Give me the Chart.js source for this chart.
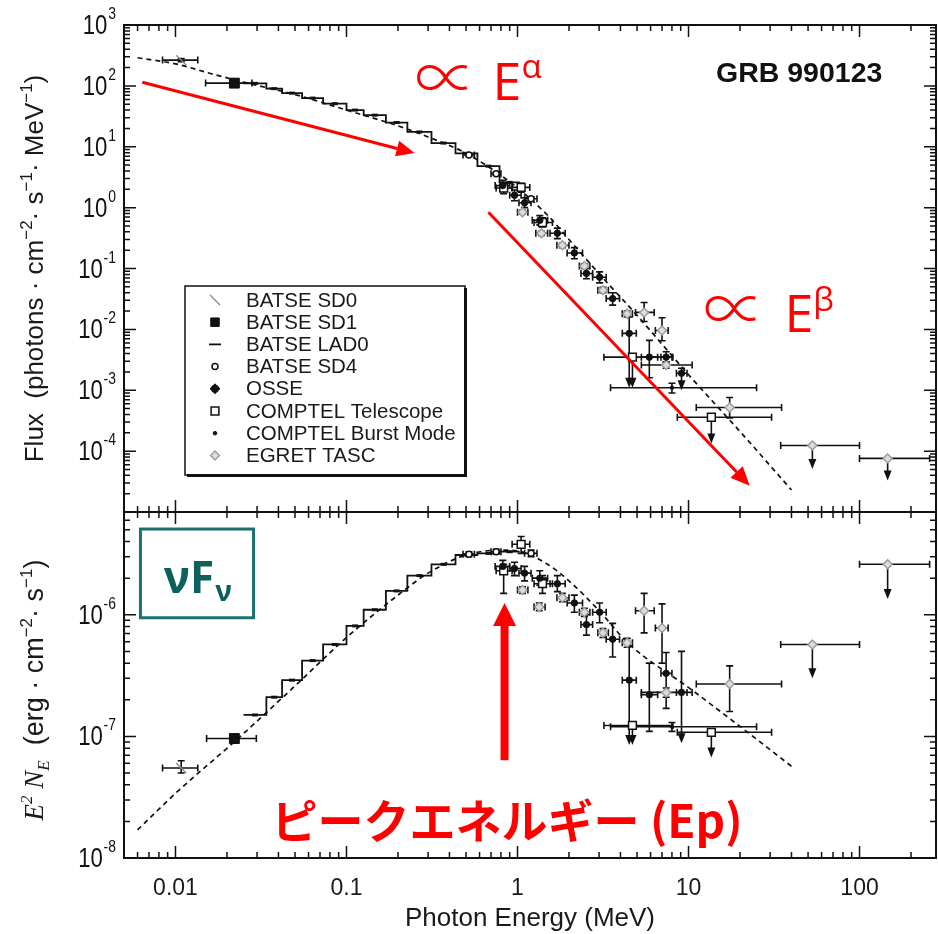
<!DOCTYPE html>
<html>
<head>
<meta charset="utf-8">
<title>GRB 990123 spectrum</title>
<script src="https://cdn.jsdelivr.net/npm/chart.js@4.4.1/dist/chart.umd.min.js"></script>
<style>
  html, body { margin: 0; padding: 0; background: #fff; }
  #c { display: block; }
</style>
</head>
<body>
<canvas id="c" width="938" height="934"></canvas>
<script>
/* GRB 990123 broadband spectrum: photon flux (top) and E^2 N_E (bottom),
   BATSE / OSSE / COMPTEL / EGRET points with the Band-function fit. */

const X_MIN = 0.005, X_MAX = 280;                    // MeV
const X_TICKS = [0.01, 0.1, 1, 10, 100];
const X_TICK_LABELS = ['0.01', '0.1', '1', '10', '100'];
const FLUX_MIN = 1e-5, FLUX_MAX = 1e3;
const NUFNU_MIN = 1e-8, NUFNU_MAX = 7e-6;
const FLUX_LABEL_EXP = [3, 2, 1, 0, -1, -2, -3, -4];
const NUFNU_LABEL_EXP = [-6, -7, -8];

// Band fit (dashed), read at nodes
const MODEL_E      = [0.006, 0.01, 0.016, 0.025, 0.05, 0.1, 0.2, 0.3, 0.5, 0.8, 1.0, 1.5, 2, 3, 5, 10, 20, 40];
const MODEL_FLUX   = [290, 230, 160, 115, 72, 40, 22, 14.5, 7.8, 3.4, 2.1, 0.75, 0.30, 0.082, 0.017, 1.8e-3, 2.1e-4, 2.3e-5];
const MODEL_NU_E   = [0.006, 0.01, 0.023, 0.05, 0.1, 0.2, 0.3, 0.5, 0.8, 1.0, 1.5, 2, 3, 4.4, 10.5, 21.8, 40.5];
const MODEL_NUFNU  = [1.7e-8, 3.4e-8, 9.5e-8, 2.6e-7, 6.5e-7, 1.45e-6, 2.2e-6, 3.1e-6, 3.4e-6, 3.35e-6, 2.6e-6, 1.9e-6, 1.08e-6, 5.9e-7, 2.4e-7, 1.1e-7, 5.6e-8];

// BATSE LAD0 bins (edges in MeV) and their levels
const LAD_EDGES = [0.025, 0.034, 0.042, 0.055, 0.073, 0.10, 0.126, 0.17, 0.227, 0.314, 0.434, 0.583, 0.785, 1.03];
const LAD_FLUX  = [110, 90, 76, 63, 51, 40, 33, 25, 17.5, 11.5, 7.8, 4.8, 2.6];
const LAD_NUFNU = [1.5e-7, 2.1e-7, 2.9e-7, 4.2e-7, 5.7e-7, 8.1e-7, 1.1e-6, 1.57e-6, 2.1e-6, 2.6e-6, 3.1e-6, 3.2e-6, 3.3e-6];

// rows: [E, E_lo, E_hi, value, value_lo, value_hi, upperLimit]
const SD0_FLUX  = [[0.0108, 0.0084, 0.0135, 265, 250, 280, 0]];
const SD0_NUFNU = [[0.0108, 0.0084, 0.0135, 5.5e-8, 5.0e-8, 6.3e-8, 0]];
const SD1_FLUX  = [[0.0221, 0.0150, 0.0280, 111, 106, 117, 0]];
const SD1_NUFNU = [[0.0221, 0.0152, 0.0297, 9.6e-8, 9.1e-8, 1.02e-7, 0]];

const SD4_FLUX  = [[0.52, 0.48, 0.56, 7.3, 7.0, 7.7, 0], [0.75, 0.70, 0.80, 3.6, 3.4, 3.8, 0], [1.2, 1.1, 1.3, 1.4, 1.3, 1.5, 0]];
const SD4_NUFNU = [[0.52, 0.48, 0.56, 3.15e-6, 3.0e-6, 3.3e-6, 0], [0.75, 0.70, 0.80, 3.3e-6, 3.15e-6, 3.45e-6, 0], [1.2, 1.1, 1.3, 3.2e-6, 3.0e-6, 3.4e-6, 0]];

const OSSE_FLUX = [
  [0.82, 0.74, 0.90, 2.3, 1.9, 2.8, 0],
  [0.96, 0.90, 1.05, 1.6, 1.3, 1.95, 0],
  [1.10, 1.02, 1.20, 1.2, 1.0, 1.45, 0],
  [1.35, 1.22, 1.50, 0.62, 0.52, 0.74, 0],
  [1.71, 1.55, 1.90, 0.38, 0.31, 0.46, 0],
  [2.15, 1.95, 2.40, 0.18, 0.145, 0.22, 0],
  [2.53, 2.35, 2.75, 0.083, 0.068, 0.10, 0],
  [3.02, 2.75, 3.30, 0.072, 0.058, 0.088, 0],
  [3.60, 3.30, 3.95, 0.032, 0.025, 0.040, 0],
  [4.50, 4.10, 4.95, 0.0086, 0.0011, 0.016, 1],
  [5.90, 5.30, 6.60, 0.0035, 0.0016, 0.0066, 0],
  [7.40, 6.90, 8.00, 0.0035, 0.0029, 0.0043, 0],
  [9.10, 8.50, 9.80, 0.0019, 0.0010, 0.0023, 1]
];
const OSSE_NUFNU = [
  [0.82, 0.74, 0.90, 2.5e-6, 2.2e-6, 2.8e-6, 0],
  [0.96, 0.90, 1.05, 2.4e-6, 2.1e-6, 2.7e-6, 0],
  [1.10, 1.02, 1.20, 2.2e-6, 1.9e-6, 2.5e-6, 0],
  [1.35, 1.22, 1.50, 2.0e-6, 1.75e-6, 2.3e-6, 0],
  [1.71, 1.55, 1.90, 1.8e-6, 1.55e-6, 2.1e-6, 0],
  [2.15, 1.95, 2.40, 1.25e-6, 1.05e-6, 1.45e-6, 0],
  [2.53, 2.35, 2.75, 8.3e-7, 6.8e-7, 1.0e-6, 0],
  [3.02, 2.75, 3.30, 1.05e-6, 8.6e-7, 1.25e-6, 0],
  [3.60, 3.30, 3.95, 6.3e-7, 4.5e-7, 8.5e-7, 0],
  [4.50, 4.10, 4.95, 2.9e-7, 8.5e-8, 5.5e-7, 1],
  [5.90, 5.30, 6.60, 2.2e-7, 1.1e-7, 4.0e-7, 0],
  [7.40, 6.90, 8.00, 3.3e-7, 1.7e-7, 4.9e-7, 0],
  [9.10, 8.50, 9.80, 2.3e-7, 8.8e-8, 5.0e-7, 1]
];

const COMPTEL_FLUX = [
  [0.83, 0.75, 0.93, 2.1, 1.7, 2.5, 0],
  [1.05, 0.93, 1.18, 2.15, 1.8, 2.5, 0],
  [1.40, 1.25, 1.60, 0.57, 0.48, 0.68, 0],
  [4.70, 3.20, 8.10, 0.0035, 0.0011, 0.0035, 1],
  [13.6, 8.6, 30.6, 3.6e-4, 1.33e-4, 3.6e-4, 1]
];
const COMPTEL_NUFNU = [
  [0.83, 0.75, 0.93, 2.3e-6, 1.5e-6, 2.6e-6, 0],
  [1.05, 0.93, 1.18, 3.8e-6, 3.2e-6, 4.4e-6, 0],
  [1.40, 1.25, 1.60, 1.8e-6, 1.5e-6, 2.1e-6, 0],
  [4.70, 3.20, 8.10, 1.23e-7, 8.5e-8, 1.23e-7, 1],
  [13.6, 8.6, 30.6, 1.08e-7, 6.7e-8, 1.08e-7, 1]
];

const BURST_FLUX  = [[8.0, 3.5, 25, 0.0011, 0.0009, 0.0013, 0]];
const BURST_NUFNU = [[8.0, 3.5, 25, 1.2e-7, 1.1e-7, 1.3e-7, 0]];

const EGRET_FLUX = [
  [1.07, 1.00, 1.15, 0.84, 0.78, 0.90, 0],
  [1.38, 1.28, 1.50, 0.38, 0.35, 0.41, 0],
  [1.83, 1.70, 2.00, 0.24, 0.22, 0.26, 0],
  [2.46, 2.30, 2.65, 0.11, 0.10, 0.12, 0],
  [3.16, 2.95, 3.40, 0.044, 0.040, 0.049, 0],
  [4.38, 4.10, 4.70, 0.018, 0.016, 0.020, 0],
  [5.50, 4.90, 6.30, 0.019, 0.0135, 0.0277, 0],
  [7.00, 6.40, 7.60, 0.0096, 0.0065, 0.0155, 0],
  [7.40, 5.30, 10.5, 0.0026, 0.0023, 0.0029, 0],
  [17.4, 11.1, 35.0, 5.2e-4, 3.5e-4, 7.6e-4, 0],
  [53.0, 34.6, 100, 1.24e-4, 5.1e-5, 1.24e-4, 1],
  [146, 100, 257, 7.6e-5, 3.3e-5, 7.6e-5, 1]
];
const EGRET_NUFNU = [
  [1.07, 1.00, 1.15, 1.6e-6, 1.5e-6, 1.7e-6, 0],
  [1.34, 1.25, 1.45, 1.16e-6, 1.08e-6, 1.25e-6, 0],
  [1.83, 1.70, 2.00, 1.38e-6, 1.28e-6, 1.5e-6, 0],
  [2.46, 2.30, 2.65, 1.05e-6, 9.7e-7, 1.13e-6, 0],
  [3.16, 2.95, 3.40, 7.1e-7, 6.5e-7, 7.7e-7, 0],
  [4.38, 4.10, 4.70, 5.9e-7, 5.4e-7, 6.4e-7, 0],
  [5.50, 4.90, 6.30, 1.08e-6, 7.1e-7, 1.5e-6, 0],
  [7.00, 6.40, 7.60, 7.8e-7, 4.0e-7, 1.23e-6, 0],
  [7.40, 5.30, 10.5, 2.3e-7, 2.1e-7, 2.5e-7, 0],
  [17.4, 11.1, 35.0, 2.7e-7, 1.6e-7, 3.8e-7, 0],
  [53.0, 34.6, 100, 5.7e-7, 3.0e-7, 5.7e-7, 1],
  [146, 100, 257, 2.6e-6, 1.35e-6, 2.6e-6, 1]
];

const LEGEND_ITEMS = [
  ['BATSE SD0', 'sd0'], ['BATSE SD1', 'sd1'], ['BATSE LAD0', 'lad'], ['BATSE SD4', 'sd4'],
  ['OSSE', 'osse'], ['COMPTEL Telescope', 'comptel'], ['COMPTEL Burst Mode', 'burst'], ['EGRET TASC', 'egret']
];

const INK = '#111', GREY = '#8c8c8c', RED = '#ff0000', TEAL = '#1b716c', TEAL_TXT = '#0d605b';
const SANS = '"Liberation Sans", Arial, Helvetica, sans-serif';
const SERIF = '"Liberation Serif", "Times New Roman", serif';

const MARK = {
  sd0:     { pointStyle: 'line',    radius: 7,   rotation: 45, borderColor: GREY, backgroundColor: GREY,  borderWidth: 1.4 },
  sd1:     { pointStyle: 'rect',    radius: 7,   rotation: 0,  borderColor: INK,  backgroundColor: INK,   borderWidth: 1 },
  lad:     { pointStyle: 'line',    radius: 6,   rotation: 0,  borderColor: INK,  backgroundColor: INK,   borderWidth: 1.8 },
  sd4:     { pointStyle: 'circle',  radius: 3,   rotation: 0,  borderColor: INK,  backgroundColor: '#fff', borderWidth: 1.5 },
  osse:    { pointStyle: 'circle',  radius: 3.2, rotation: 0,  borderColor: INK,  backgroundColor: INK,   borderWidth: 1 },
  comptel: { pointStyle: 'rect',    radius: 5.5, rotation: 0,  borderColor: INK,  backgroundColor: '#fff', borderWidth: 1.5 },
  burst:   { pointStyle: 'circle',  radius: 1.8, rotation: 0,  borderColor: INK,  backgroundColor: INK,   borderWidth: 1 },
  egret:   { pointStyle: 'rectRot', radius: 4.5, rotation: 0,  borderColor: '#9a9a9a', backgroundColor: '#dcdcdc', borderWidth: 1.4 }
};

/* ---- helpers ----------------------------------------------------------- */
function pointSet(label, rows, axis, kind) {
  const m = MARK[kind];
  return {
    label, rows, kind, yAxisID: axis, showLine: false,
    data: rows.map(r => ({ x: r[0], y: r[3] })),
    pointStyle: m.pointStyle, pointRadius: m.radius, pointRotation: m.rotation,
    pointBackgroundColor: m.backgroundColor, pointBorderColor: m.borderColor, pointBorderWidth: m.borderWidth
  };
}
function ladSet(values, axis) {
  return {
    label: 'BATSE LAD0', steps: values, yAxisID: axis, showLine: false, pointRadius: 0,
    data: values.map((v, i) => ({ x: LAD_EDGES[i], y: v }))
  };
}
function modelSet(xs, ys, axis) {
  return {
    label: 'Band fit', yAxisID: axis, order: 10, showLine: true, pointRadius: 0,
    data: xs.map((x, i) => ({ x, y: ys[i] })),
    borderColor: INK, borderWidth: 1.7, borderDash: [5, 4], cubicInterpolationMode: 'monotone'
  };
}

function downArrow(ctx, x, yTop, yTip) {
  ctx.beginPath(); ctx.moveTo(x, yTop); ctx.lineTo(x, yTip - 8); ctx.stroke();
  ctx.beginPath(); ctx.moveTo(x, yTip); ctx.lineTo(x - 4, yTip - 10); ctx.lineTo(x + 4, yTip - 10); ctx.closePath(); ctx.fill();
}

function redArrow(ctx, x0, y0, x1, y1, w, head, half) {
  const a = Math.atan2(y1 - y0, x1 - x0);
  const bx = x1 - head * Math.cos(a), by = y1 - head * Math.sin(a);
  ctx.lineWidth = w;
  ctx.beginPath(); ctx.moveTo(x0, y0); ctx.lineTo(bx, by); ctx.stroke();
  ctx.beginPath(); ctx.moveTo(x1, y1);
  ctx.lineTo(bx + half * Math.sin(a), by - half * Math.cos(a));
  ctx.lineTo(bx - half * Math.sin(a), by + half * Math.cos(a));
  ctx.closePath(); ctx.fill();
}

// runs: [text, 'n' | 'sup' | 'sub', family, style]
function drawRuns(ctx, runs, size, x, y, align) {
  const parts = runs.map(([t, kind = 'n', fam = SANS, style = '']) => {
    const s = kind === 'n' ? size : Math.round(size * 0.64);
    const dy = kind === 'sup' ? -size * 0.42 : kind === 'sub' ? size * 0.24 : 0;
    const font = (style ? style + ' ' : '') + s + 'px ' + fam;
    ctx.font = font;
    return { t, font, dy, w: ctx.measureText(t).width };
  });
  const total = parts.reduce((a, p) => a + p.w, 0);
  let cx = align === 'center' ? x - total / 2 : align === 'right' ? x - total : x;
  ctx.textAlign = 'left';
  parts.forEach(p => { ctx.font = p.font; ctx.fillText(p.t, cx, y + p.dy); cx += p.w; });
  return total;
}

function logTicks(min, max) {
  const out = [];
  for (let d = Math.floor(Math.log10(min)); d <= Math.ceil(Math.log10(max)); d++) {
    for (let m = 1; m <= 9; m++) {
      const v = m * Math.pow(10, d);
      if (v >= min * 0.9999 && v <= max * 1.0001) out.push({ v, major: m === 1 });
    }
  }
  return out;
}

/* ---- plugins ------------------------------------------------------------ */
const errorBars = {
  id: 'errorBars',
  beforeDatasetsDraw(chart) {
    const { ctx } = chart, xs = chart.scales.x;
    ctx.save();
    ctx.strokeStyle = INK; ctx.fillStyle = INK; ctx.lineWidth = 1.6;
    chart.data.datasets.forEach(ds => {
      const ys = chart.scales[ds.yAxisID];
      if (ds.steps) {                                   // LAD0 staircase
        ctx.lineWidth = 1.8;
        ctx.beginPath();
        ds.steps.forEach((v, i) => {
          const x0 = xs.getPixelForValue(LAD_EDGES[i]), x1 = xs.getPixelForValue(LAD_EDGES[i + 1]);
          const py = ys.getPixelForValue(v);
          if (i === 0) ctx.moveTo(x0, py); else ctx.lineTo(x0, py);
          ctx.lineTo(x1, py);
        });
        ctx.stroke();
        ds.steps.forEach((v, i) => {
          const xm = xs.getPixelForValue(Math.sqrt(LAD_EDGES[i] * LAD_EDGES[i + 1]));
          const py = ys.getPixelForValue(v);
          ctx.fillRect(xm - 3, py - 1.5, 6, 3);
        });
        ctx.lineWidth = 1.6;
        return;
      }
      if (!ds.rows) return;
      ds.rows.forEach(([e, lo, hi, y, ylo, yhi, ul]) => {
        const x = xs.getPixelForValue(e), py = ys.getPixelForValue(y);
        const x0 = xs.getPixelForValue(lo), x1 = xs.getPixelForValue(hi);
        ctx.beginPath();
        ctx.moveTo(x0, py); ctx.lineTo(x1, py);
        ctx.moveTo(x0, py - 3.5); ctx.lineTo(x0, py + 3.5);
        ctx.moveTo(x1, py - 3.5); ctx.lineTo(x1, py + 3.5);
        ctx.stroke();
        const pHi = ys.getPixelForValue(yhi);
        if (yhi > y) {
          ctx.beginPath(); ctx.moveTo(x, py); ctx.lineTo(x, pHi);
          ctx.moveTo(x - 3.5, pHi); ctx.lineTo(x + 3.5, pHi); ctx.stroke();
        }
        if (ul) {
          downArrow(ctx, x, py, ys.getPixelForValue(ylo));
        } else if (ylo < y) {
          const pLo = ys.getPixelForValue(ylo);
          ctx.beginPath(); ctx.moveTo(x, py); ctx.lineTo(x, pLo);
          ctx.moveTo(x - 3.5, pLo); ctx.lineTo(x + 3.5, pLo); ctx.stroke();
        }
      });
    });
    ctx.restore();
  }
};

const panelFrames = {
  id: 'panelFrames',
  afterDatasetsDraw(chart) {
    const { ctx } = chart, xs = chart.scales.x;
    const xt = logTicks(X_MIN, X_MAX);
    ctx.save();
    ctx.strokeStyle = INK; ctx.fillStyle = INK;
    [['yF', FLUX_MIN, FLUX_MAX, FLUX_LABEL_EXP], ['yE', NUFNU_MIN, NUFNU_MAX, NUFNU_LABEL_EXP]].forEach(([id, mn, mx, exps]) => {
      const ys = chart.scales[id];
      const L = xs.left, R = xs.right, T = ys.top, B = ys.bottom;
      ctx.lineWidth = 2;
      ctx.strokeRect(L, T, R - L, B - T);
      ctx.lineWidth = 1.5;
      ctx.beginPath();
      xt.forEach(({ v, major }) => {
        const x = xs.getPixelForValue(v), len = major ? 12 : 6;
        ctx.moveTo(x, T); ctx.lineTo(x, T + len);
        ctx.moveTo(x, B); ctx.lineTo(x, B - len);
      });
      logTicks(mn, mx).forEach(({ v, major }) => {
        const y = ys.getPixelForValue(v), len = major ? 12 : 6;
        ctx.moveTo(L, y); ctx.lineTo(L + len, y);
        ctx.moveTo(R, y); ctx.lineTo(R - len, y);
      });
      ctx.stroke();
      // decade labels 10^n
      ctx.textBaseline = 'alphabetic';
      exps.forEach(n => {
        const y = ys.getPixelForValue(Math.pow(10, n));
        ctx.save();
        ctx.translate(L - 8, y);
        ctx.scale(0.82, 1);
        ctx.font = '17px ' + SANS;
        const sup = String(n);
        const sw = ctx.measureText(sup).width;
        ctx.textAlign = 'right';
        ctx.fillText(sup, 0, -6);
        ctx.font = '27px ' + SANS;
        ctx.fillText('10', -sw - 1, 9);
        ctx.restore();
      });
    });
    ctx.restore();
  }
};

const annotations = {
  id: 'annotations',
  afterDraw(chart) {
    const { ctx } = chart, xs = chart.scales.x, yF = chart.scales.yF, yE = chart.scales.yE;
    const X = v => xs.getPixelForValue(v), F = v => yF.getPixelForValue(v), N = v => yE.getPixelForValue(v);
    const area = chart.chartArea;
    ctx.save();

    // axis titles
    ctx.fillStyle = '#1a1a1a';
    ctx.textBaseline = 'alphabetic';
    ctx.save();
    ctx.translate(43, (yF.top + yF.bottom) / 2);
    ctx.rotate(-Math.PI / 2);
    drawRuns(ctx, [['Flux  (photons \u00b7 cm'], ['\u22122', 'sup'], ['\u00b7 s'], ['\u22121', 'sup'], ['\u00b7 MeV'], ['\u22121', 'sup'], [')']], 26, 0, 0, 'center');
    ctx.restore();
    ctx.save();
    ctx.translate(43, (yE.top + yE.bottom) / 2 + 5);
    ctx.rotate(-Math.PI / 2);
    drawRuns(ctx, [['E', 'n', SERIF, 'italic'], ['2', 'sup', SERIF, 'italic'], [' N', 'n', SERIF, 'italic'], ['E', 'sub', SERIF, 'italic'],
                   ['  (erg \u00b7 cm'], ['\u22122', 'sup'], ['\u00b7 s'], ['\u22121', 'sup'], [')']], 27, 0, 0, 'center');
    ctx.restore();

    // legend
    const lx = area.left + 61, ly = area.top + 261, lw = 280, lh = 189;
    ctx.lineWidth = 1.5; ctx.strokeStyle = INK;
    ctx.strokeRect(lx, ly, lw, lh);
    ctx.fillStyle = INK;
    ctx.fillRect(lx + lw - 1, ly + 2, 3, lh);
    ctx.fillRect(lx + 2, ly + lh - 1, lw, 3);
    LEGEND_ITEMS.forEach(([text, kind], i) => {
      const cy = ly + 14 + i * 22.2, sx = lx + 30;
      const m = MARK[kind];
      ctx.save();
      ctx.strokeStyle = m.borderColor; ctx.fillStyle = m.backgroundColor; ctx.lineWidth = m.borderWidth;
      if (kind === 'osse') {
        ctx.lineWidth = 2; ctx.beginPath();
        ctx.moveTo(sx - 5, cy); ctx.lineTo(sx + 5, cy); ctx.moveTo(sx, cy - 5); ctx.lineTo(sx, cy + 5); ctx.stroke();
      }
      Chart.helpers.drawPoint(ctx, { pointStyle: m.pointStyle, rotation: m.rotation, radius: kind === 'sd1' ? 6 : m.radius, borderWidth: m.borderWidth }, sx, cy);
      ctx.restore();
      ctx.fillStyle = '#1a1a1a';
      ctx.font = '20.5px ' + SANS; ctx.textAlign = 'left'; ctx.textBaseline = 'middle';
      ctx.fillText(text, lx + 61, cy + 1);
    });

    // burst label
    ctx.textBaseline = 'alphabetic';
    ctx.font = 'bold 28.5px ' + SANS; ctx.textAlign = 'right'; ctx.fillStyle = INK;
    ctx.fillText('GRB 990123', X(136), F(115));

    // power-law guides
    ctx.fillStyle = RED; ctx.strokeStyle = RED;
    redArrow(ctx, X(0.0064), F(115), X(0.25), F(7.9), 3, 18, 8);
    redArrow(ctx, X(0.676), F(0.84), X(22.8), F(2.7e-5), 3, 19, 8.5);
    ctx.textAlign = 'center';
    ctx.textBaseline = 'middle';
    ctx.font = '300 62px "Noto Sans CJK JP"';
    [[0.38, 140], [18.5, 0.0224]].forEach(([e, f]) => {
      ctx.fillText('\u221d', X(e), F(f));
    });
    ctx.textBaseline = 'alphabetic';
    ctx.textAlign = 'left';
    drawRuns(ctx, [['E', 'n', '"Open Sans"'], ['\u03b1', 'sup', '"Open Sans"']], 52, X(0.714), F(58), 'left');
    drawRuns(ctx, [['E', 'n', '"Open Sans"'], ['\u03b2', 'sup', '"Open Sans"']], 52, X(36.4), F(8.9e-3), 'left');

    // peak energy marker
    redArrow(ctx, X(0.84), N(6.35e-8), X(0.84), N(1.25e-6), 8, 23, 11.5);
    ctx.font = 'bold 46px "Noto Sans CJK JP"';
    ctx.fillText('\u30d4\u30fc\u30af\u30a8\u30cd\u30eb\u30ae\u30fc (Ep)', X(0.0364), N(1.45e-8));

    // nuFnu tag
    const bx0 = X(0.00624), bx1 = X(0.0286), by0 = N(5.07e-6), by1 = N(9.45e-7);
    ctx.strokeStyle = TEAL; ctx.lineWidth = 3;
    ctx.strokeRect(bx0, by0, bx1 - bx0, by1 - by0);
    ctx.fillStyle = TEAL_TXT;
    ctx.font = 'bold 44px "Open Sans"';
    const w = ctx.measureText('\u03bdF').width;
    const tx = (bx0 + bx1) / 2 - (w + 16) / 2;
    ctx.fillText('\u03bdF', tx, by0 + 64);
    ctx.font = 'bold 28px "Open Sans"';
    ctx.fillText('\u03bd', tx + w + 1, by0 + 72);

    ctx.restore();
  }
};

/* ---- chart -------------------------------------------------------------- */
const datasets = [
  pointSet('BATSE SD0', SD0_FLUX, 'yF', 'sd0'),
  pointSet('BATSE SD1', SD1_FLUX, 'yF', 'sd1'),
  ladSet(LAD_FLUX, 'yF'),
  pointSet('BATSE SD4', SD4_FLUX, 'yF', 'sd4'),
  pointSet('OSSE', OSSE_FLUX, 'yF', 'osse'),
  pointSet('COMPTEL Telescope', COMPTEL_FLUX, 'yF', 'comptel'),
  pointSet('COMPTEL Burst Mode', BURST_FLUX, 'yF', 'burst'),
  pointSet('EGRET TASC', EGRET_FLUX, 'yF', 'egret'),
  pointSet('BATSE SD0', SD0_NUFNU, 'yE', 'sd0'),
  pointSet('BATSE SD1', SD1_NUFNU, 'yE', 'sd1'),
  ladSet(LAD_NUFNU, 'yE'),
  pointSet('BATSE SD4', SD4_NUFNU, 'yE', 'sd4'),
  pointSet('OSSE', OSSE_NUFNU, 'yE', 'osse'),
  pointSet('COMPTEL Telescope', COMPTEL_NUFNU, 'yE', 'comptel'),
  pointSet('COMPTEL Burst Mode', BURST_NUFNU, 'yE', 'burst'),
  pointSet('EGRET TASC', EGRET_NUFNU, 'yE', 'egret'),
  modelSet(MODEL_E, MODEL_FLUX, 'yF'),
  modelSet(MODEL_NU_E, MODEL_NUFNU, 'yE')
];

const yAxis = (min, max, weight) => ({
  type: 'logarithmic', position: 'left', stack: 'panels', stackWeight: weight, min, max,
  grid: { display: false, drawTicks: false }, border: { display: false },
  ticks: { display: false },
  afterFit(s) { s.width = 124; }
});

new Chart(document.getElementById('c'), {
  type: 'scatter',
  data: { datasets },
  options: {
    responsive: false, animation: false, events: [],
    layout: { autoPadding: false, padding: { top: 25, right: 2, left: 0, bottom: 0 } },
    plugins: { legend: { display: false }, tooltip: { enabled: false } },
    scales: {
      x: {
        type: 'logarithmic', min: X_MIN, max: X_MAX,
        grid: { display: false, drawTicks: false }, border: { display: false },
        afterBuildTicks(s) { s.ticks = X_TICKS.map(v => ({ value: v })); },
        ticks: {
          color: '#1a1a1a', font: { family: SANS, size: 23 }, padding: 17, maxRotation: 0, autoSkip: false,
          callback: v => { const i = X_TICKS.findIndex(t => Math.abs(t - v) / t < 1e-6); return i < 0 ? '' : X_TICK_LABELS[i]; }
        },
        title: { display: true, text: 'Photon Energy (MeV)', color: '#1a1a1a', font: { family: SANS, size: 26 }, padding: { top: 0, bottom: 0 } },
        afterFit(s) { s.height = 76; }
      },
      // the last axis of a left-hand stack is laid out on top
      yE: yAxis(NUFNU_MIN, NUFNU_MAX, 346),
      yF: yAxis(FLUX_MIN, FLUX_MAX, 487)
    }
  },
  plugins: [errorBars, panelFrames, annotations]
});
</script>
</body>
</html>
